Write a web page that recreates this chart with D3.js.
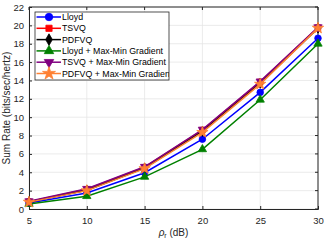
<!DOCTYPE html>
<html>
<head>
<meta charset="utf-8">
<script src="https://cdn.jsdelivr.net/npm/d3@7"></script>
<style>
  body { margin: 0; background: #fff; }
  text { font-family: "Liberation Sans", Arial, sans-serif; }
</style>
</head>
<body>
<div id="chart"></div>
<script>
// Data
const snr = [5, 10, 15, 20, 25, 30];
const lloyd = [0.65, 1.75, 3.95, 7.6, 12.7, 18.6];
const tsvq = [0.8, 2.15, 4.55, 8.6, 13.85, 19.75];
const pdfvq = [0.78, 2.05, 4.45, 8.45, 13.7, 19.7];
const lloydMM = [0.55, 1.4, 3.5, 6.5, 11.9, 18.0];
const tsvqMM = [0.85, 2.2, 4.6, 8.65, 13.9, 19.8];
const pdfvqMM = [0.75, 2.0, 4.4, 8.35, 13.6, 19.7];
const xTicks = [5, 10, 15, 20, 25, 30];
const yTicks = [0, 2, 4, 6, 8, 10, 12, 14, 16, 18, 20, 22];

const series = [
  {name: "Lloyd", values: lloyd, color: "#0000ff", sym: d3.symbolCircle, size: 34},
  {name: "TSVQ", values: tsvq, color: "#ff0000", sym: d3.symbolSquare, size: 30},
  {name: "PDFVQ", values: pdfvq, color: "#000000", sym: d3.symbolDiamond, size: 30},
  {name: "Lloyd + Max-Min Gradient", values: lloydMM, color: "#008000", sym: d3.symbolTriangle, size: 30},
  {name: "TSVQ + Max-Min Gradient", values: tsvqMM, color: "#800080", sym: "down", size: 30},
  {name: "PDFVQ + Max-Min Gradient", values: pdfvqMM, color: "#ff8033", sym: d3.symbolStar, size: 40}
];

const W = 324, H = 243;
const margin = {top: 7, right: 6, bottom: 34, left: 29};
const width = W - margin.left - margin.right;
const height = H - margin.top - margin.bottom;

const svg = d3.select("#chart").append("svg")
  .attr("width", W).attr("height", H);

const g = svg.append("g")
  .attr("transform", `translate(${margin.left},${margin.top})`);

const x = d3.scaleLinear().domain([5, 30]).range([0, width]);
const y = d3.scaleLinear().domain([0, 22]).range([height, 0]);

// grid
g.append("g").selectAll("line").data(xTicks).join("line")
  .attr("x1", d => x(d)).attr("x2", d => x(d))
  .attr("y1", 0).attr("y2", height)
  .attr("stroke", "#e6e6e6").attr("stroke-width", 0.8);
g.append("g").selectAll("line").data(yTicks).join("line")
  .attr("x1", 0).attr("x2", width)
  .attr("y1", d => y(d)).attr("y2", d => y(d))
  .attr("stroke", "#e6e6e6").attr("stroke-width", 0.8);

// axes
const xAxis = g.append("g")
  .attr("transform", `translate(0,${height})`)
  .call(d3.axisBottom(x).tickValues(xTicks).tickSize(-3).tickPadding(8));
const yAxis = g.append("g")
  .call(d3.axisLeft(y).tickValues(yTicks).tickSize(-3).tickPadding(5));
[xAxis, yAxis].forEach(a => {
  a.selectAll("text").attr("fill", "#262626").style("font-size", "9.5px");
  a.selectAll("line,path").attr("stroke", "#262626");
});
// top and right box lines
g.append("line").attr("x1", 0).attr("x2", width).attr("y1", 0).attr("y2", 0)
  .attr("stroke", "#262626");
g.append("line").attr("x1", width).attr("x2", width).attr("y1", 0).attr("y2", height)
  .attr("stroke", "#262626");
g.append("g").selectAll("line").data(xTicks).join("line")
  .attr("x1", d => x(d)).attr("x2", d => x(d)).attr("y1", 0).attr("y2", 3)
  .attr("stroke", "#262626");
g.append("g").selectAll("line").data(yTicks).join("line")
  .attr("x1", width - 3).attr("x2", width).attr("y1", d => y(d)).attr("y2", d => y(d))
  .attr("stroke", "#262626");

// labels
svg.append("text")
  .attr("x", margin.left + width / 2).attr("y", 236)
  .attr("text-anchor", "middle").attr("fill", "#262626").style("font-size", "10px")
  .html('<tspan font-style="italic">ρ</tspan><tspan dy="2" font-size="7px">r</tspan><tspan dy="-2"> (dB)</tspan>');
svg.append("text")
  .attr("transform", `translate(10,${margin.top + height / 2}) rotate(-90)`)
  .attr("text-anchor", "middle").attr("fill", "#262626").style("font-size", "10px")
  .text("Sum Rate (bits/sec/hertz)");

function symPath(s, size) {
  if (s === "down") return d3.symbol().type(d3.symbolTriangle).size(size)();
  return d3.symbol().type(s).size(size)();
}

const line = d3.line().x((d, i) => x(snr[i])).y(d => y(d));

series.forEach(s => {
  g.append("path").datum(s.values)
    .attr("d", line).attr("fill", "none")
    .attr("stroke", s.color).attr("stroke-width", 1.5);
  g.append("g").selectAll("path").data(s.values).join("path")
    .attr("transform", (d, i) => `translate(${x(snr[i])},${y(d)})` + (s.sym === "down" ? " rotate(180)" : ""))
    .attr("d", symPath(s.sym, s.size))
    .attr("fill", s.color).attr("stroke", s.color).attr("stroke-width", 0.8);
});

// legend
const lg = svg.append("g").attr("transform", "translate(35,12)");
lg.append("clipPath").attr("id", "lgclip").append("rect")
  .attr("width", 134).attr("height", 68);
lg.append("rect").attr("width", 134).attr("height", 68)
  .attr("fill", "#fff").attr("stroke", "#262626").attr("stroke-width", 0.8);
const rows = lg.append("g").attr("clip-path", "url(#lgclip)")
  .selectAll("g").data(series).join("g")
  .attr("transform", (d, i) => `translate(0,${5 + i * 11.3})`);
rows.append("line").attr("x1", 1.5).attr("x2", 26)
  .attr("stroke", d => d.color).attr("stroke-width", 1.5);
rows.append("path")
  .attr("transform", d => "translate(14,0)" + (d.sym === "down" ? " rotate(180)" : ""))
  .attr("d", d => symPath(d.sym, d.size * 1.3))
  .attr("fill", d => d.color).attr("stroke", d => d.color).attr("stroke-width", 0.8);
rows.append("text").attr("x", 27).attr("dy", "0.35em")
  .attr("fill", "#000").style("font-size", "8.8px")
  .text(d => d.name);
</script>
</body>
</html>
